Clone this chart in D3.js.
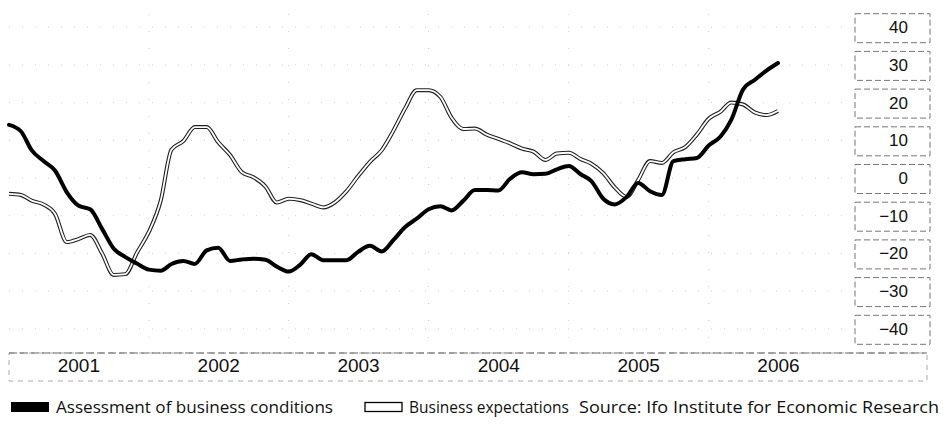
<!DOCTYPE html>
<html>
<head>
<meta charset="utf-8">
<title>Ifo business climate</title>
<style>
    body { margin: 0; background: #fff; }
    svg { display: block; font-family: "Open Sans", "DejaVu Sans", sans-serif; }
</style>
</head>
<body>
<div id="chart"></div>
<script src="https://cdn.jsdelivr.net/npm/d3@7"></script>
<script>
// monthly values, Jan 2001 .. Jul 2006
var startYear = 2001;
var assessment = [14.1, 12.4, 7.4, 4.5, 2.0, -3.8, -7.3, -8.3, -13.5, -18.7,
    -21, -22.7, -24.3, -24.6, -22.8, -22, -22.8, -19.2, -18.5, -22,
    -21.6, -21.4, -21.7, -23.5, -24.8, -22.9, -20.2, -21.8, -21.8, -21.8,
    -19.6, -18, -19.5, -16.5, -13, -10.8, -8.3, -7.5, -8.6, -6,
    -3.2, -3.2, -3.3, -0.2, 1.5, 1.0, 1.1, 2.3, 3.2, 1.0,
    -0.8, -5.5, -7, -5, -1.3, -3.5, -4.5, 4.5, 5.0, 5.3,
    8.6, 11, 15.4, 23.5, 26, 28.5, 30.5];
var expectations = [-4.2, -4.5, -6, -7, -9.5, -17, -16.2, -15.1, -20, -25.7,
    -25.5, -19.8, -14.3, -6, 7.5, 9.8, 13.5, 13.5, 9.5, 6.1,
    1.5, 0.2, -2.2, -6.5, -5.5, -5.9, -6.8, -7.8, -6.5, -3.5,
    0.5, 4.3, 7.4, 12.5, 18.5, 23.3, 23.3, 21.5, 16, 13,
    13.1, 11.5, 10.4, 9.2, 7.8, 7.0, 4.8, 6.5, 6.7, 5.0,
    3.8, 1.3, -2.5, -5, -0.5, 4.5, 4, 6.8, 8.2, 11.5,
    15.7, 17.6, 20, 19.5, 17.4, 16.7, 17.8];
var yearLabels = ["2001", "2002", "2003", "2004", "2005", "2006"];
var yTicks = [40, 30, 20, 10, 0, -10, -20, -30, -40];
var yTickLabels = ["40", "30", "20", "10", "0", "\u221210", "\u221220", "\u221230", "\u221240"];
var legendLabels = ["Assessment of business conditions", "Business expectations"];
var sourceText = "Source: Ifo Institute for Economic Research";

var width = 943, height = 427;

var svg = d3.select("#chart").append("svg")
    .attr("width", width)
    .attr("height", height);

function monthDate(i) { return new Date(startYear, i, 1); }

var x = d3.scaleTime()
    .domain([monthDate(0), monthDate(66)])
    .range([9, 778]);

var y = d3.scaleLinear()
    .domain([-40, 40])
    .range([328.8, 27.2]);

// faint grid (barely visible in the scan)
var gridColor = "#cfcfcf";
svg.append("g")
    .selectAll("line")
    .data(yTicks)
    .enter().append("line")
    .attr("x1", 9).attr("x2", 855)
    .attr("y1", function (d) { return y(d); })
    .attr("y2", function (d) { return y(d); })
    .attr("stroke", gridColor)
    .attr("stroke-width", 1)
    .attr("stroke-dasharray", "1,12");

svg.append("g")
    .selectAll("line")
    .data(yearLabels.slice(1))
    .enter().append("line")
    .attr("x1", function (d) { return x(new Date(+d, 0, 1)); })
    .attr("x2", function (d) { return x(new Date(+d, 0, 1)); })
    .attr("y1", 14).attr("y2", 353)
    .attr("stroke", gridColor)
    .attr("stroke-width", 1)
    .attr("stroke-dasharray", "1,16");

// x axis: dashed box holding the year labels
svg.append("rect")
    .attr("x", 9).attr("y", 353)
    .attr("width", 918).attr("height", 28)
    .attr("fill", "none")
    .attr("stroke", "#aaa")
    .attr("stroke-width", 1)
    .attr("stroke-dasharray", "5,5");
svg.append("line")
    .attr("x1", 9).attr("x2", 927)
    .attr("y1", 353).attr("y2", 353)
    .attr("stroke", "#666")
    .attr("stroke-width", 1.2)
    .attr("stroke-dasharray", "8,3");

var xAxis = svg.append("g")
    .attr("transform", "translate(0,353)")
    .call(d3.axisBottom(x)
        .tickValues(yearLabels.map(function (d) { return new Date(+d, 6, 1); }))
        .tickFormat(function (d, i) { return yearLabels[i]; })
        .tickSize(0)
        .tickPadding(6));
xAxis.select(".domain").remove();
xAxis.selectAll("text")
    .attr("fill", "#111")
    .style("font-size", "19px");

// y axis: labels in dashed boxes on the right
var yAxis = svg.append("g")
    .attr("transform", "translate(908,0)")
    .call(d3.axisRight(y)
        .tickValues(yTicks)
        .tickFormat(function (d, i) { return yTickLabels[i]; })
        .tickSize(0)
        .tickPadding(0));
yAxis.select(".domain").remove();
yAxis.selectAll(".tick").insert("rect", "text")
    .attr("x", -53).attr("y", -14)
    .attr("width", 75).attr("height", 29)
    .attr("fill", "none")
    .attr("stroke", "#777")
    .attr("stroke-width", 1)
    .attr("stroke-dasharray", "6,3");
yAxis.selectAll("text")
    .attr("text-anchor", "end")
    .attr("fill", "#111")
    .style("font-size", "17px");

// lines
var line = d3.line()
    .x(function (d, i) { return x(monthDate(i)); })
    .y(function (d) { return y(d); })
    .curve(d3.curveMonotoneX);

svg.append("path")
    .datum(expectations)
    .attr("d", line)
    .attr("fill", "none")
    .attr("stroke", "#222")
    .attr("stroke-width", 4)
    .attr("stroke-linejoin", "round");
svg.append("path")
    .datum(expectations)
    .attr("d", line)
    .attr("fill", "none")
    .attr("stroke", "#fff")
    .attr("stroke-width", 1.8)
    .attr("stroke-linejoin", "round");

svg.append("path")
    .datum(assessment)
    .attr("d", line)
    .attr("fill", "none")
    .attr("stroke", "#000")
    .attr("stroke-width", 4)
    .attr("stroke-linejoin", "round")
    .attr("stroke-linecap", "round");

// legend
var legend = svg.append("g").attr("transform", "translate(0,407)");
legend.append("rect")
    .attr("x", 11).attr("y", -5)
    .attr("width", 38).attr("height", 10)
    .attr("fill", "#000");
legend.append("text")
    .attr("x", 56).attr("y", 0).attr("dy", "0.35em")
    .attr("textLength", 277).attr("lengthAdjust", "spacingAndGlyphs")
    .style("font-size", "17px")
    .attr("fill", "#111")
    .text(legendLabels[0]);
legend.append("rect")
    .attr("x", 365).attr("y", -4.5)
    .attr("width", 37).attr("height", 9)
    .attr("fill", "#fff")
    .attr("stroke", "#000")
    .attr("stroke-width", 1.3);
legend.append("text")
    .attr("x", 409).attr("y", 0).attr("dy", "0.35em")
    .attr("textLength", 160).attr("lengthAdjust", "spacingAndGlyphs")
    .style("font-size", "17px")
    .attr("fill", "#111")
    .text(legendLabels[1]);
legend.append("text")
    .attr("x", 579).attr("y", 0).attr("dy", "0.35em")
    .attr("textLength", 360).attr("lengthAdjust", "spacingAndGlyphs")
    .style("font-size", "17px")
    .attr("fill", "#111")
    .text(sourceText);
</script>
</body>
</html>
